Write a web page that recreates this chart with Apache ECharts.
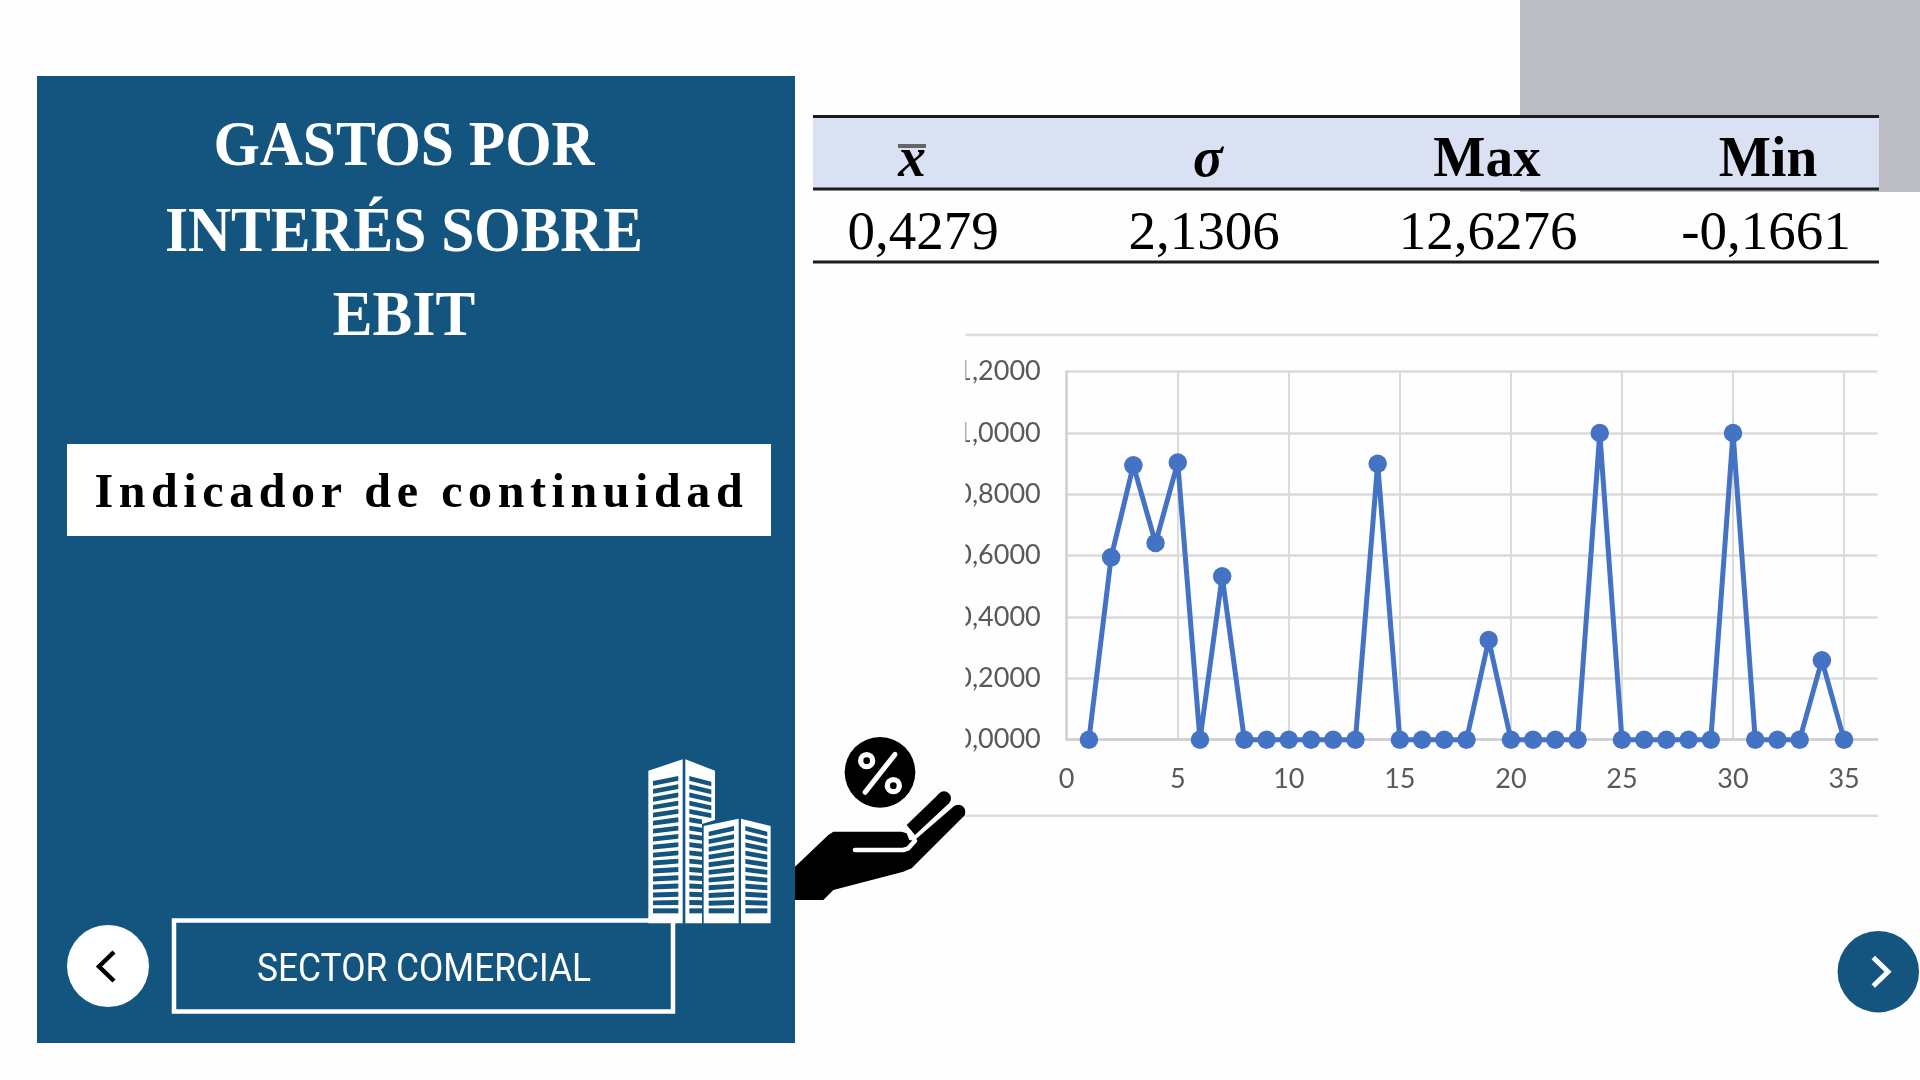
<!DOCTYPE html>
<html>
<head>
<meta charset="utf-8">
<style>
html,body{margin:0;padding:0;background:#FEFEFE;overflow:hidden}
#chart{position:absolute;left:0;top:0;width:1920px;height:1080px}
#badge{position:absolute;left:94.5px;top:463px;height:60px;line-height:60px;font:bold 48px "Liberation Serif",serif;color:#000;letter-spacing:5.6px;white-space:nowrap}
</style>
</head>
<body>
<div id="chart"></div>
<div id="badge">Indicador de continuidad</div>
<script src="https://cdn.jsdelivr.net/npm/echarts@6/dist/echarts.min.js"></script>
<script>
// ---- data ----
const pointIndex = [1,2,3,4,5,6,7,8,9,10,11,12,13,14,15,16,17,18,19,20,21,22,23,24,25,26,27,28,29,30,31,32,33,34,35];
const pointValue = [0,0.5946,0.8946,0.6413,0.904,0,0.5326,0,0,0,0,0,0,0.9,0,0,0,0,0.325,0,0,0,0,1,0,0,0,0,0,1,0,0,0,0.2587,0];
const titleLines = ['GASTOS POR','INTERÉS SOBRE','EBIT'];
const sectorLabel = 'SECTOR COMERCIAL';
const tableHeaders = ['x','σ','Max','Min'];
const tableValues = ['0,4279','2,1306','12,6276','-0,1661'];

const BLUE = '#14557F', SERIF = '"Liberation Serif",serif';
const baseY = (b, fs) => b - 0.28 * fs;

function serifText(text, cx, baseline, fs, color, weight, italic, sx) {
  return {type:'text', z:10, x:cx, y:baseY(baseline, fs), scaleX:sx||1, style:{
    text, fill:color, align:'center', verticalAlign:'middle',
    font:(italic?'italic ':'')+(weight||'normal')+' '+fs+'px '+SERIF}};
}
function rect(x,y,w,h,fill,extra){return Object.assign({type:'rect',z:10,shape:{x,y,width:w,height:h},style:{fill}},extra||{});}
function hline(x1,x2,y,color,w){return {type:'line',z:10,shape:{x1,y1:y,x2,y2:y},style:{stroke:color,lineWidth:w}};}
function poly(points,fill){return {type:'polygon',z:11,shape:{points:points.map(p=>[620+p[0]/3,720+p[1]/3])},style:{fill}};}
function stroke(points,color,w,cap){return {type:'polyline',z:11,shape:{points:points.map(p=>[620+p[0]/3,720+p[1]/3])},style:{stroke:color,lineWidth:w,lineCap:cap||'round',lineJoin:'round',fill:null}};}
function circ(x,y,r,fill){return {type:'circle',z:11,shape:{cx:620+x/3,cy:720+y/3,r:r/3},style:{fill}};}
const hand = pts => pts.map(p=>[p[0]+510,p[1]+180]);

// building window stripes (decoration)
function stripes(x1,x2,count,topL,topR,xClipAfter){
  const out=[], botY=565, h=15;
  for(let i=0;i<count;i++){
    const t=i/(count-1), skew=1-t;
    const yL=topL+(botY-topL)*t, yR=topR+(botY-topR)*t;
    const hh=h-skew*1;
    let xr=x2;
    if(xClipAfter && yL>xClipAfter) xr=246;
    const yRR=yL+(yR-yL)*(xr-x1)/(x2-x1);
    out.push(poly([[x1,yL],[xr,yRR],[xr,yRR+hh],[x1,yL+hh]],BLUE));
  }
  return out;
}

const graphics = [
  rect(1520,0,400,192,'#BCBCC5'),
  rect(37,76,758,967,BLUE),
  // table
  rect(813,117,1066,72,'#DAE1F2'),
  hline(813,1879,116.5,'#1c1c1c',3),
  hline(813,1879,189,'#1c1c1c',3),
  hline(813,1879,262,'#1c1c1c',3),
  {type:'line',z:10,shape:{x1:898,y1:146,x2:926,y2:146},style:{stroke:'#666',lineWidth:4}},
  serifText(tableHeaders[0],912,177,57,'#000','bold',true,0.97),
  serifText(tableHeaders[1],1208,177,57,'#000','bold',true,0.97),
  serifText(tableHeaders[2],1487,177,57,'#000','bold',false,0.97),
  serifText(tableHeaders[3],1768,177,57,'#000','bold',false,0.97),
  serifText(tableValues[0],923,250,55,'#000'),
  serifText(tableValues[1],1204,250,55,'#000'),
  serifText(tableValues[2],1488,250,55,'#000'),
  serifText(tableValues[3],1766,250,55,'#000'),
  // title
  serifText(titleLines[0],404,166.7,63,'#fff','bold',false,0.945),
  serifText(titleLines[1],404,252.3,63,'#fff','bold',false,0.945),
  serifText(titleLines[2],404,336.7,63,'#fff','bold',false,0.945),
  rect(67,444,704,92,'#fff'),
  // sector box and nav
  {type:'rect',z:10,shape:{x:174,y:920.5,width:499,height:91},style:{fill:null,stroke:'#fff',lineWidth:4.5}},
  {type:'text',z:10,x:424,y:971,scaleX:0.93,style:{text:sectorLabel,fill:'#fff',align:'center',verticalAlign:'middle',font:'38px Roboto'}},
  {type:'circle',z:10,shape:{cx:108,cy:966,r:41},style:{fill:'#fff'}},
  {type:'polyline',z:10,shape:{points:[[114,952],[99,966.5],[114,981]]},style:{stroke:'#000',lineWidth:4.5,fill:null}},
  {type:'circle',z:10,shape:{cx:1878.3,cy:971.7,r:40.7},style:{fill:BLUE}},
  {type:'polyline',z:10,shape:{points:[[1873.3,957.5],[1888,971.7],[1873.3,986]]},style:{stroke:'#fff',lineWidth:5,fill:null}},
  // pasted chart picture borders and left clip
  rect(800,340,165.5,470,'#FEFEFE'),
  hline(965.5,1878,335,'#DCDCDC',2.5),
  hline(965.5,1878,815.7,'#DCDCDC',2.5),
  // buildings
  poly([[85,152],[188,118],[188,610],[85,610]],'#fff'),
  poly([[196,118],[285,152],[285,300],[246,312],[246,610],[196,610]],'#fff'),
  ...stripes(99,175,17,183,168),
  ...stripes(208,274,17,168,185,290),
  poly([[251,318],[356,296],[356,610],[251,610]],'#fff'),
  poly([[363,296],[452,318],[452,610],[363,610]],'#fff'),
  ...stripes(266,342,11,335,318),
  ...stripes(376,442,11,318,335),
  // hand
  poly(hand([[15,260],[115,165],[130,155],[335,155],[350,160],[358,180],[372,182],[490,80],[505,75],[525,95],[525,105],[365,265],[340,275],[130,330],[100,360],[15,360]]),'#000'),
  circ(505+510,95+180,21,'#000'),
  poly(hand([[350,135],[447,41],[477,70],[375,165]]),'#000'),
  circ(462+510,55+180,21,'#000'),
  stroke(hand([[195,210],[340,210],[355,205],[375,182]]),'#FEFEFE',4.5),
  stroke(hand([[345,143],[362,165],[368,178]]),'#FEFEFE',3,'butt'),
  // percent
  circ(780,157,106,'#000'),
  stroke([[735,217],[825,103]],'#fff',5),
  circ(740,122,26,'#fff'), circ(740,122,10,'#000'),
  circ(820,197,26,'#fff'), circ(820,197,10,'#000')
];

const chart = echarts.init(document.getElementById('chart'), null, {renderer:'canvas', width:1920, height:1080});
chart.setOption({
  backgroundColor:'#FEFEFE',
  animation:false,
  grid:{left:1066.7, top:371.7, width:810.7, height:368, containLabel:false},
  xAxis:{type:'value',min:0,max:36.5,interval:5,
    axisLine:{show:true,onZero:false,lineStyle:{color:'#CFCFCF',width:2.5}},
    axisTick:{show:false},
    axisLabel:{show:true,showMaxLabel:false,margin:26.5,fontFamily:'Lato',fontSize:27,color:'#595959'},
    splitLine:{show:true,showMaxLine:false,showMinLine:false,lineStyle:{color:'#DADADA',width:2}}},
  yAxis:{type:'value',min:0,max:1.2,interval:0.2,
    axisLine:{show:true,lineStyle:{color:'#CFCFCF',width:2.5}},
    axisTick:{show:false},
    axisLabel:{margin:26,fontFamily:'Lato',fontSize:27,color:'#595959',formatter:v=>v.toFixed(4).replace('.',',')},
    splitLine:{show:true,lineStyle:{color:'#DADADA',width:2.5}}},
  series:[{type:'line',data:pointIndex.map((x,i)=>[x,pointValue[i]]),
    smooth:false,showSymbol:true,symbol:'circle',symbolSize:18.5,clip:false,
    lineStyle:{color:'#4472C4',width:5},itemStyle:{color:'#4472C4'}}],
  graphic:{elements:graphics}
});
</script>
</body>
</html>
